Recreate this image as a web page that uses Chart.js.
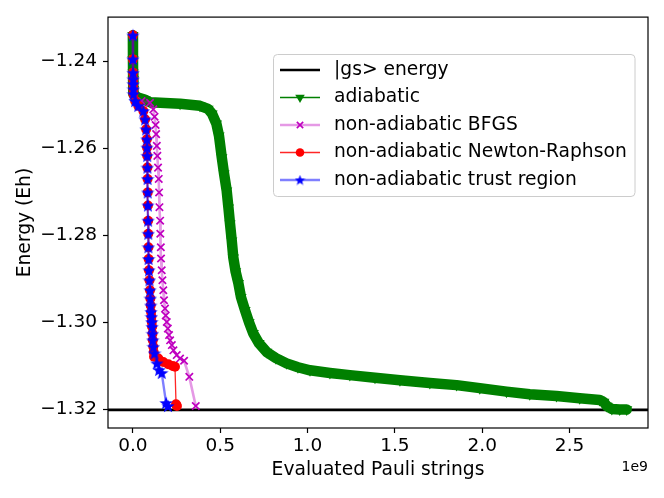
<!DOCTYPE html>
<html>
<head>
<meta charset="utf-8">
<script src="https://cdn.jsdelivr.net/npm/chart.js@4.4.1/dist/chart.umd.min.js"></script>
<style>
  html, body { margin: 0; padding: 0; background: #fff; }
  canvas { display: block; }
</style>
</head>
<body>
<canvas id="chart" width="664" height="498" style="width:664px;height:498px"></canvas>
<script>
// x values are evaluated Pauli strings in units of 1e9
const gsEnergy = -1.3202;

const adiabaticX = [0, 0.0005, 0.001, 0.002, 0.002, 0.003, 0.003, 0.024, 0.07, 0.10, 0.27, 0.384, 0.43, 0.453,
  0.478, 0.493, 0.509, 0.522, 0.537, 0.547, 0.556, 0.566, 0.575, 0.588, 0.604, 0.619, 0.642, 0.665, 0.689,
  0.722, 0.766, 0.819, 0.88, 0.945, 1.014, 1.128, 1.242, 1.386, 1.529, 1.70, 1.853, 1.986, 2.139, 2.272,
  2.425, 2.558, 2.672, 2.696, 2.713, 2.742, 2.787, 2.827];
const adiabaticY = [-1.2341, -1.2396, -1.2427, -1.2442, -1.2453, -1.2465, -1.2476, -1.2483, -1.2489, -1.2495,
  -1.2498, -1.2503, -1.2510, -1.2521, -1.2544, -1.2572, -1.2622, -1.2659, -1.2698, -1.2737, -1.2774, -1.2813,
  -1.2852, -1.2884, -1.2911, -1.2943, -1.2973, -1.3001, -1.3026, -1.3049, -1.3069, -1.3083, -1.3095, -1.3104,
  -1.3111, -1.3117, -1.3122, -1.3128, -1.3134, -1.3140, -1.3145, -1.3152, -1.3160, -1.3166, -1.3170, -1.3175,
  -1.3179, -1.3184, -1.3193, -1.3200, -1.3201, -1.3201];

const bfgsX = [0, 0.0005, 0.001, 0.002, 0.002, 0.003, 0.003, 0.05, 0.098, 0.117, 0.124, 0.130, 0.133, 0.137,
  0.140, 0.144, 0.148, 0.150, 0.152, 0.156, 0.157, 0.160, 0.161, 0.165, 0.169, 0.174, 0.178, 0.184, 0.188,
  0.194, 0.200, 0.207, 0.213, 0.223, 0.232, 0.251, 0.270, 0.293, 0.323, 0.360];
const bfgsY = [-1.2341, -1.2396, -1.2427, -1.2442, -1.2453, -1.2465, -1.2476, -1.2492, -1.2496, -1.2511,
  -1.2528, -1.2547, -1.2568, -1.2595, -1.2618, -1.2645, -1.2671, -1.2702, -1.2736, -1.2767, -1.2797, -1.2828,
  -1.2854, -1.2881, -1.2904, -1.2927, -1.2950, -1.2969, -1.2985, -1.3000, -1.3015, -1.3030, -1.3042, -1.3053,
  -1.3065, -1.3076, -1.3084, -1.3089, -1.3126, -1.3193];

const newtonX = [0, 0.0005, 0.001, 0.002, 0.002, 0.003, 0.003, 0.013, 0.031, 0.060, 0.070, 0.076, 0.080, 0.081,
  0.082, 0.083, 0.084, 0.085, 0.086, 0.087, 0.088, 0.089, 0.090, 0.092, 0.095, 0.098, 0.100, 0.102, 0.104,
  0.106, 0.108, 0.110, 0.112, 0.114, 0.117, 0.119, 0.121, 0.146, 0.174, 0.203, 0.228, 0.241, 0.247, 0.252];
const newtonY = [-1.2341, -1.2396, -1.2427, -1.2442, -1.2453, -1.2465, -1.2476, -1.2492, -1.2503, -1.2515,
  -1.2534, -1.2557, -1.2580, -1.2599, -1.2618, -1.2645, -1.2671, -1.2702, -1.2732, -1.2767, -1.2797, -1.2828,
  -1.2855, -1.2881, -1.2904, -1.2927, -1.2946, -1.2962, -1.2977, -1.2988, -1.3000, -1.3011, -1.3027, -1.3042,
  -1.3057, -1.3069, -1.3080, -1.3084, -1.3092, -1.3097, -1.3101, -1.3103, -1.3189, -1.3193];

const trustX = [0, 0.0005, 0.001, 0.002, 0.002, 0.003, 0.003, 0.013, 0.031, 0.060, 0.070, 0.076, 0.080, 0.081,
  0.082, 0.083, 0.084, 0.085, 0.086, 0.087, 0.088, 0.089, 0.090, 0.092, 0.095, 0.098, 0.100, 0.102, 0.104,
  0.106, 0.108, 0.110, 0.112, 0.114, 0.117, 0.124, 0.137, 0.150, 0.165, 0.190, 0.201];
const trustY = [-1.2341, -1.2396, -1.2427, -1.2442, -1.2453, -1.2465, -1.2476, -1.2492, -1.2503, -1.2515,
  -1.2534, -1.2557, -1.2580, -1.2599, -1.2618, -1.2645, -1.2671, -1.2702, -1.2732, -1.2767, -1.2797, -1.2828,
  -1.2855, -1.2881, -1.2904, -1.2927, -1.2946, -1.2962, -1.2977, -1.2988, -1.3000, -1.3011, -1.3027, -1.3042,
  -1.3057, -1.3072, -1.3095, -1.3110, -1.3117, -1.3186, -1.3193];

const seriesNames = ['|gs> energy', 'adiabatic', 'non-adiabatic BFGS', 'non-adiabatic Newton-Raphson', 'non-adiabatic trust region'];
const xTicks = [0, 0.5, 1.0, 1.5, 2.0, 2.5];
const yTicks = [-1.32, -1.30, -1.28, -1.26, -1.24];
const xMin = -0.1425, xMax = 2.949;
const yMin = -1.32436, yMax = -1.2299;

const FONT = '"DejaVu Sans", sans-serif';

function pts(xs, ys) {
  return xs.map((x, i) => ({ x: x, y: ys[i] }));
}

// filled five-point star, matplotlib '*' style
function makeStar(size, color) {
  const c = document.createElement('canvas');
  c.width = size; c.height = size;
  const g = c.getContext('2d');
  const cx = size / 2, cy = size / 2 + size * 0.04, ro = size / 2, ri = ro * 0.42;
  g.beginPath();
  for (let i = 0; i < 10; i++) {
    const r = i % 2 === 0 ? ro : ri;
    const a = -Math.PI / 2 + i * Math.PI / 5;
    g.lineTo(cx + r * Math.cos(a), cy + r * Math.sin(a));
  }
  g.closePath();
  g.fillStyle = color;
  g.fill();
  return c;
}
const starPlot = makeStar(14, '#0000ff');
const starLegend = makeStar(11, '#0000ff');

const styles = [
  { line: '#000000', lw: 2.6 },
  { line: '#008000', lw: 1.3, marker: { pointStyle: 'triangle', rotation: 180, radius: 5.5, borderWidth: 0 }, fill: '#008000' },
  { line: 'rgba(191,0,191,0.4)', lw: 2.6, marker: { pointStyle: 'crossRot', rotation: 0, radius: 4.5, borderWidth: 1.6 }, fill: '#bf00bf' },
  { line: 'rgba(255,0,0,0.85)', lw: 1.3, marker: { pointStyle: 'circle', rotation: 0, radius: 4.3, borderWidth: 0 }, fill: '#ff0000' },
  { line: 'rgba(0,0,255,0.5)', lw: 2.4, marker: { pointStyle: starLegend, rotation: 0, radius: 4, borderWidth: 0 }, fill: '#0000ff' }
];

const framePlugin = {
  id: 'frame',
  afterDraw(chart) {
    const { ctx, chartArea: a } = chart;
    ctx.save();
    ctx.strokeStyle = '#000';
    ctx.lineWidth = 1.2;
    ctx.strokeRect(a.left, a.top, a.right - a.left, a.bottom - a.top);

    // legend
    const lx = 273.5, ly = 54.5, lw = 361.5, lh = 142;
    ctx.beginPath();
    ctx.roundRect(lx, ly, lw, lh, 4);
    ctx.fillStyle = 'rgba(255,255,255,0.8)';
    ctx.fill();
    ctx.strokeStyle = '#cccccc';
    ctx.lineWidth = 1;
    ctx.stroke();
    ctx.font = '18.7px ' + FONT;
    ctx.textBaseline = 'middle';
    ctx.textAlign = 'left';
    seriesNames.forEach((name, i) => {
      const y = 70 + i * 27.5;
      const s = styles[i];
      ctx.beginPath();
      ctx.moveTo(280, y);
      ctx.lineTo(320, y);
      ctx.strokeStyle = s.line;
      ctx.lineWidth = s.lw;
      ctx.stroke();
      if (s.marker) {
        ctx.fillStyle = s.fill;
        ctx.strokeStyle = s.fill;
        ctx.lineWidth = s.marker.borderWidth;
        Chart.helpers.drawPoint(ctx, s.marker, 300, y);
      }
      ctx.fillStyle = '#000';
      ctx.fillText(name, 334, y);
    });

    // axis titles and offset text
    ctx.fillStyle = '#000';
    ctx.textAlign = 'center';
    ctx.fillText('Evaluated Pauli strings', (a.left + a.right) / 2, 470);
    ctx.save();
    ctx.translate(25, (a.top + a.bottom) / 2);
    ctx.rotate(-Math.PI / 2);
    ctx.fillText('Energy (Eh)', 0, 0);
    ctx.restore();
    ctx.font = '14px ' + FONT;
    ctx.textAlign = 'right';
    ctx.fillText('1e9', a.right, 467);
    ctx.restore();
  }
};

const axisCommon = {
  type: 'linear',
  border: { display: false },
  grid: { display: true, drawOnChartArea: false, drawTicks: true, tickLength: 5, tickColor: '#000', tickWidth: 1.2 },
  ticks: { color: '#000', font: { family: FONT, size: 18.5 } }
};

new Chart(document.getElementById('chart').getContext('2d'), {
  type: 'line',
  data: {
    datasets: [
      {
        label: seriesNames[0], data: pts([xMin, xMax], [gsEnergy, gsEnergy]),
        borderColor: '#000', borderWidth: 2.6, pointRadius: 0, order: 5
      },
      {
        label: seriesNames[1], data: pts(adiabaticX, adiabaticY),
        borderColor: '#008000', borderWidth: 10.5, borderJoinStyle: 'round', borderCapStyle: 'round',
        pointStyle: 'triangle', pointRotation: 180, pointRadius: 6.5,
        pointBackgroundColor: '#008000', pointBorderWidth: 0, order: 4
      },
      {
        label: seriesNames[2], data: pts(bfgsX, bfgsY),
        borderColor: 'rgba(191,0,191,0.4)', borderWidth: 2.6,
        pointStyle: 'crossRot', pointRadius: 5.2, pointBorderColor: '#bf00bf', pointBorderWidth: 1.7, order: 3
      },
      {
        label: seriesNames[3], data: pts(newtonX, newtonY),
        borderColor: 'rgba(255,0,0,0.85)', borderWidth: 1.3,
        pointStyle: 'circle', pointRadius: 5, pointBackgroundColor: '#ff0000', pointBorderWidth: 0, order: 2
      },
      {
        label: seriesNames[4], data: pts(trustX, trustY),
        borderColor: 'rgba(0,0,255,0.5)', borderWidth: 2.4,
        pointStyle: starPlot, pointRadius: 5, pointBorderWidth: 0, order: 1
      }
    ]
  },
  options: {
    responsive: false,
    animation: false,
    layout: { padding: { left: 0, right: 16, top: 16, bottom: 0 } },
    plugins: { legend: { display: false }, tooltip: { enabled: false } },
    elements: { line: { tension: 0 } },
    scales: {
      x: Object.assign({}, axisCommon, {
        min: xMin, max: xMax,
        afterFit: s => { s.height = 70; },
        afterBuildTicks: s => { s.ticks = xTicks.map(v => ({ value: v })); },
        ticks: Object.assign({}, axisCommon.ticks, { padding: 2, maxRotation: 0, callback: v => v.toFixed(1) })
      }),
      y: Object.assign({}, axisCommon, {
        min: yMin, max: yMax,
        afterFit: s => { s.width = 108; },
        afterBuildTicks: s => { s.ticks = yTicks.map(v => ({ value: v })); },
        ticks: Object.assign({}, axisCommon.ticks, { padding: 6, callback: v => (v < 0 ? '\u2212' : '') + Math.abs(v).toFixed(2) })
      })
    }
  },
  plugins: [framePlugin]
});
</script>
</body>
</html>
